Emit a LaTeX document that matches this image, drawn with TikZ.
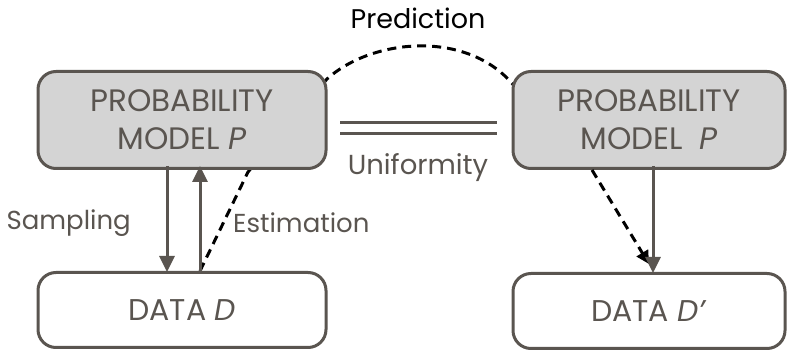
\documentclass[tikz,border=0pt]{standalone}
\usepackage{fontspec}
\setmainfont{Poppins}
\usetikzlibrary{arrows.meta,backgrounds}
\definecolor{edge}{HTML}{5A5550}
\definecolor{boxfill}{HTML}{D4D4D4}
\begin{document}
\begin{tikzpicture}[x=1pt,y=-1pt,
  box/.style={draw=edge,line width=3pt,rounded corners=18pt,text=edge,align=center,inner sep=0pt},
  model/.style={box,fill=boxfill,minimum height=97pt,font=\fontsize{31}{38}\selectfont},
  data/.style={box,fill=white,minimum height=75pt,font=\fontsize{30}{32}\selectfont},
  lab/.style={text=edge,font=\fontsize{26}{28}\selectfont,inner sep=0pt},
  solidarrow/.style={draw=edge,line width=3pt,-{Triangle[width=15pt,length=16pt]}},
  dashline/.style={line width=3pt,dash pattern=on 9pt off 6pt}
]
\useasboundingbox (0,0) rectangle (787,352);
\node[model,minimum width=288pt] (pl) at (182,120) {PROBABILITY\\MODEL \textit{P}};
\node[data,minimum width=288pt] (dl) at (182,310) {DATA \textit{D}};
\node[model,minimum width=272pt] (pr) at (649,120) {PROBABILITY\\MODEL\ \ \textit{P}};
\node[data,minimum width=272pt] (dr) at (649,311) {DATA \textit{D’}};

\coordinate (sTop) at (pl.south -| 167,0);
\coordinate (sBot) at (dl.north -| 167,0);
\coordinate (eTop) at (pl.south -| 200,0);
\coordinate (eBot) at (dl.north -| 200,0);
\coordinate (rTop) at (pr.south -| 653,0);
\coordinate (rBot) at (dr.north -| 653,0);

\begin{scope}[on background layer]
\coordinate (c1) at (248,172);
\coordinate (c2) at (327,79);
\coordinate (c3) at (508,79);
\coordinate (c4) at (592,170);
\draw[dashline] (eBot) -- (c1) -- (c2) .. controls (370,40) and (460,30) .. (c3) -- (c4);
\end{scope}
\coordinate (dEnd) at (649,264);
\draw[dashline,-{Triangle[width=13pt,length=13pt]}] (c4) -- (dEnd);

\draw[solidarrow] ([yshift=4pt]sTop) -- ([yshift=-1pt]sBot);
\draw[solidarrow] (eBot) -- ([yshift=4pt]eTop);
\draw[solidarrow] ([yshift=4pt]rTop) -- ([yshift=-1pt]rBot);

\node[lab,anchor=east] (samp) at (131,223) {Sampling};
\node[lab,anchor=west] (est) at (233,223) {Estimation};

\coordinate (u1) at (340,123);
\coordinate (u2) at (497,123);
\coordinate (u3) at (340,134);
\coordinate (u4) at (497,134);
\draw[draw=edge,line width=3pt] (u1) -- (u2) (u3) -- (u4);
\node[lab,font=\fontsize{27.5}{30}\selectfont] (uni) at (418,168) {Uniformity};
\node[lab,text=black,font=\fontsize{27}{30}\selectfont] (pred) at (418,18) {Prediction};
\end{tikzpicture}
\end{document}
